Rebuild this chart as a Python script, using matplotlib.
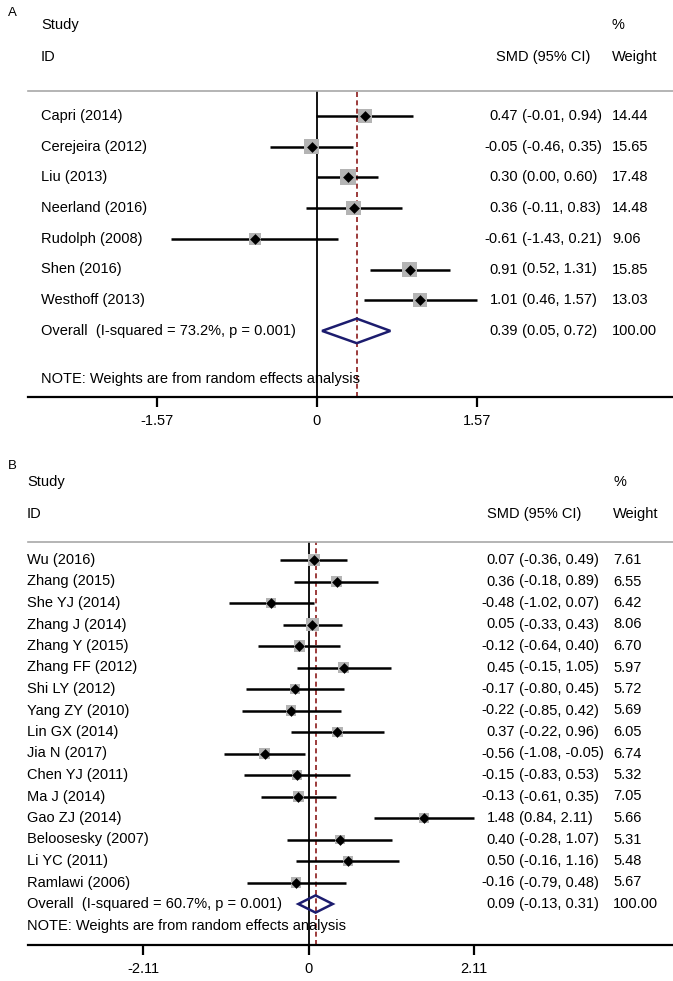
import numpy as np
import matplotlib
matplotlib.use('Agg')
import matplotlib.pyplot as plt
from matplotlib.patches import Polygon
from matplotlib.transforms import blended_transform_factory

plt.rcParams['font.family'] = ['Liberation Sans', 'DejaVu Sans']
plt.rcParams['font.size'] = 10.5

W, H = 673, 981

# ---- panel A data ----
a_studies = ['Capri (2014)', 'Cerejeira (2012)', 'Liu (2013)', 'Neerland (2016)',
             'Rudolph (2008)', 'Shen (2016)', 'Westhoff (2013)']
a_smd = [0.47, -0.05, 0.30, 0.36, -0.61, 0.91, 1.01]
a_lo = [-0.01, -0.46, 0.00, -0.11, -1.43, 0.52, 0.46]
a_hi = [0.94, 0.35, 0.60, 0.83, 0.21, 1.31, 1.57]
a_weight = [14.44, 15.65, 17.48, 14.48, 9.06, 15.85, 13.03]
a_overall = [0.39, 0.05, 0.72]
a_overall_label = 'Overall  (I-squared = 73.2%, p = 0.001)'
a_ticks = [-1.57, 0, 1.57]

# ---- panel B data ----
b_studies = ['Wu (2016)', 'Zhang (2015)', 'She YJ (2014)', 'Zhang J (2014)', 'Zhang Y (2015)',
             'Zhang FF (2012)', 'Shi LY (2012)', 'Yang ZY (2010)', 'Lin GX (2014)', 'Jia N (2017)',
             'Chen YJ (2011)', 'Ma J (2014)', 'Gao ZJ (2014)', 'Beloosesky (2007)', 'Li YC (2011)',
             'Ramlawi (2006)']
b_smd = [0.07, 0.36, -0.48, 0.05, -0.12, 0.45, -0.17, -0.22, 0.37, -0.56, -0.15, -0.13, 1.48, 0.40, 0.50, -0.16]
b_lo = [-0.36, -0.18, -1.02, -0.33, -0.64, -0.15, -0.80, -0.85, -0.22, -1.08, -0.83, -0.61, 0.84, -0.28, -0.16, -0.79]
b_hi = [0.49, 0.89, 0.07, 0.43, 0.40, 1.05, 0.45, 0.42, 0.96, -0.05, 0.53, 0.35, 2.11, 1.07, 1.16, 0.48]
b_weight = [7.61, 6.55, 6.42, 8.06, 6.70, 5.97, 5.72, 5.69, 6.05, 6.74, 5.32, 7.05, 5.66, 5.31, 5.48, 5.67]
b_overall = [0.09, -0.13, 0.31]
b_overall_label = 'Overall  (I-squared = 60.7%, p = 0.001)'
b_ticks = [-2.11, 0, 2.11]

note = 'NOTE: Weights are from random effects analysis'


def fx(px):
    return px / W


def fy(py):
    return 1 - py / H


def draw_panel(fig, letter, studies, smd, lo, hi, weight, overall, overall_label, ticks, lay):
    row1, sp = lay['row1'], lay['spacing']

    def row(py):
        return 1 + (py - row1) / sp

    ax = fig.add_axes([fx(28), fy(lay['axis_y']), fx(673 - 28), (lay['axis_y'] - lay['top_y']) / H])
    ax.set_xlim((28 - lay['zero_x']) / lay['scale'], (673 - lay['zero_x']) / lay['scale'])
    ax.set_ylim(row(lay['axis_y']), row(lay['top_y']))
    for s in ['left', 'right']:
        ax.spines[s].set_visible(False)
    ax.spines['top'].set_color('#a8a8a8')
    ax.spines['top'].set_linewidth(1.2)
    ax.spines['bottom'].set_linewidth(1.6)
    ax.set_yticks([])
    ax.set_xticks(ticks)
    ax.set_xticklabels(['%g' % t for t in ticks])
    ax.tick_params(axis='x', direction='out', length=7, width=1.6, pad=5)

    rows = np.arange(1, len(studies) + 1)
    ax.axvline(0, color='black', lw=1.3, zorder=2)
    ax.axvline(overall[0], color='#8b1a1a', lw=1.2, ls=(0, (3, 2)), zorder=2)
    ax.hlines(rows, lo, hi, color='black', lw=1.8, zorder=3)
    k = lay['box']
    ax.scatter(smd, rows, marker='s', s=(k * np.sqrt(weight) * 0.72) ** 2,
               color='#b4b4b4', lw=0, zorder=3)
    ax.scatter(smd, rows, marker='D', s=30, color='black', lw=0, zorder=4)

    r_ov = len(studies) + 1
    es, olo, ohi = overall
    ax.add_patch(Polygon([(olo, r_ov), (es, r_ov - 0.4), (ohi, r_ov), (es, r_ov + 0.4)],
                         closed=True, fill=False, edgecolor='#1c1c6e', lw=1.8, zorder=4))

    tr = blended_transform_factory(fig.transFigure, ax.transData)
    labels = list(studies) + [overall_label]
    ests = list(smd) + [es]
    los = list(lo) + [olo]
    his = list(hi) + [ohi]
    wts = list(weight) + [100.0]
    for i, lab in enumerate(labels):
        r = i + 1
        ax.text(fx(lay['label_x']), r, lab, transform=tr, va='center', ha='left')
        ax.text(fx(lay['pe_end']), r, '%.2f' % ests[i], transform=tr, va='center', ha='right')
        ax.text(fx(lay['pe_end']), r, ' (%.2f, %.2f)' % (los[i], his[i]), transform=tr,
                va='center', ha='left')
        ax.text(fx(lay['weight_x']), r, '%.2f' % wts[i], transform=tr, va='center', ha='left')
    ax.text(fx(lay['label_x']), row(lay['note_y']), note, transform=tr, va='center', ha='left')

    fig.text(fx(8), fy(lay['letter_y']), letter, va='center', ha='left', fontsize=9.5)
    fig.text(fx(lay['label_x']), fy(lay['study_y']), 'Study', va='center', ha='left')
    fig.text(fx(lay['label_x']), fy(lay['id_y']), 'ID', va='center', ha='left')
    fig.text(fx(lay['smd_x']), fy(lay['id_y']), 'SMD (95% CI)', va='center', ha='left')
    fig.text(fx(lay['weight_x']), fy(lay['study_y']), '%', va='center', ha='left')
    fig.text(fx(lay['weight_x']), fy(lay['id_y']), 'Weight', va='center', ha='left')
    return ax


fig = plt.figure(figsize=(W / 100, H / 100), dpi=100)

lay_a = dict(top_y=91, axis_y=397, row1=116, spacing=30.7, zero_x=317, scale=101.9,
             label_x=41, letter_y=13, study_y=25, id_y=57, note_y=379,
             pe_end=518, weight_x=612, smd_x=496, box=3.8)
lay_b = dict(top_y=542, axis_y=945, row1=560, spacing=21.5, zero_x=308.5, scale=78.2,
             label_x=27, letter_y=466, study_y=482, id_y=514, note_y=926,
             pe_end=515, weight_x=613, smd_x=487, box=4.3)

draw_panel(fig, 'A', a_studies, a_smd, a_lo, a_hi, a_weight, a_overall, a_overall_label, a_ticks, lay_a)
draw_panel(fig, 'B', b_studies, b_smd, b_lo, b_hi, b_weight, b_overall, b_overall_label, b_ticks, lay_b)

fig.savefig('out.png', dpi=100)
